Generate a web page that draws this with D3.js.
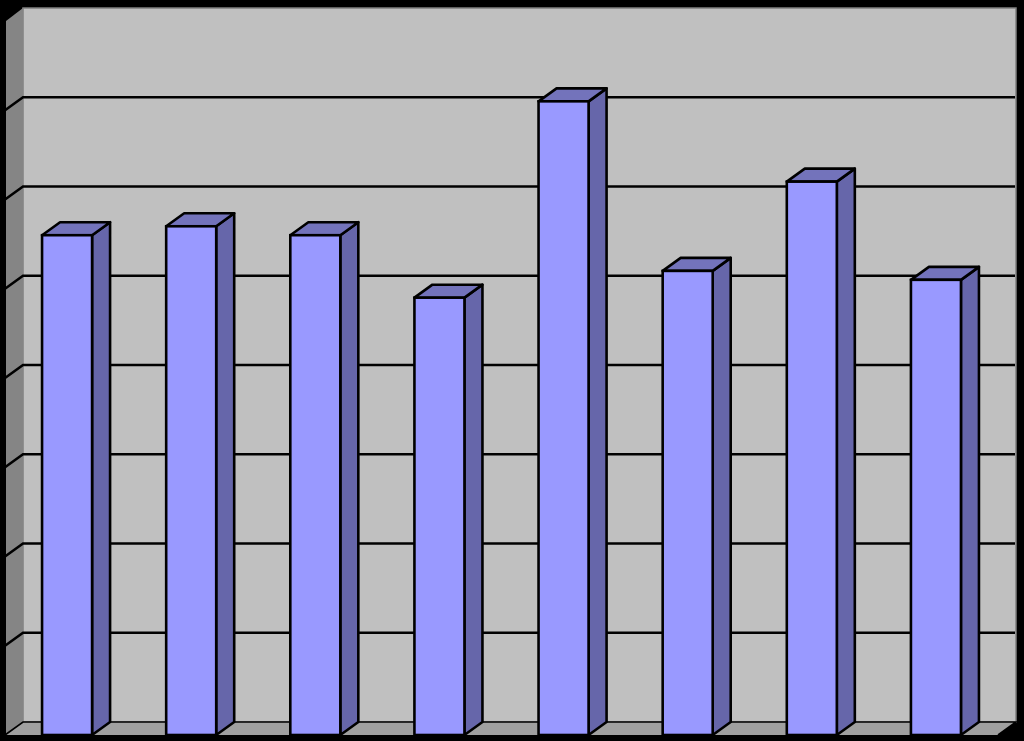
<!DOCTYPE html>
<html>
<head>
<meta charset="utf-8">
<style>html,body{margin:0;padding:0;background:#000;overflow:hidden}svg{display:block}</style>
<script src="https://cdn.jsdelivr.net/npm/d3@7/dist/d3.min.js"></script>
</head>
<body>
<svg id="c" width="1024" height="741"></svg>
<script>
const categories = ["1","2","3","4","5","6","7","8"];
const values = [56, 57, 56, 49, 71, 52, 62, 51];
const gridTicks = [0, 10, 20, 30, 40, 50, 60, 70, 80];

const W = 1024, H = 741;
const frontLeft = 5, frontRight = 998, frontBottom = 735, frontTop = 21;
const dx = 18, dy = -13;

const x = d3.scaleBand().domain(categories).range([frontLeft, frontRight]).paddingInner(0.597).paddingOuter(0.2985);
const y = d3.scaleLinear().domain([0, 80]).range([frontBottom, frontTop]);

const svg = d3.select("#c");
const line = d3.line();
const poly = pts => line(pts) + "Z";
const stroke = "#000";

svg.append("rect").attr("width", W).attr("height", H).attr("fill", "#000");

// back wall
svg.append("path")
  .attr("d", poly([[frontLeft+dx, y(80)+dy],[frontRight+dx, y(80)+dy],[frontRight+dx, y(0)+dy],[frontLeft+dx, y(0)+dy]]))
  .attr("fill", "#c0c0c0").attr("stroke", "#808080").attr("stroke-width", 1.5);
// left wall
svg.append("path")
  .attr("d", poly([[frontLeft+1, y(80)],[frontLeft+dx, y(80)+dy],[frontLeft+dx, y(0)+dy],[frontLeft+1, y(0)]]))
  .attr("fill", "#858585");
// floor
svg.append("path")
  .attr("d", poly([[frontLeft, y(0)],[frontLeft+dx, y(0)+dy],[frontRight+dx, y(0)+dy],[frontRight, y(0)]]))
  .attr("fill", "#a0a0a0");

// grid lines: back wall plus left wall diagonal
const g = svg.append("g");
gridTicks.filter(t => t > 0 && t < 80).forEach(t => {
  g.append("path")
    .attr("d", line([[frontLeft, y(t)],[frontLeft+dx, y(t)+dy],[frontRight+dx-1, y(t)+dy]]))
    .attr("fill", "none").attr("stroke", stroke).attr("stroke-width", 2.6);
});
// floor edges
svg.append("path")
  .attr("d", line([[frontLeft, y(0)],[frontLeft+dx, y(0)+dy],[frontRight+dx, y(0)+dy],[frontRight, y(0)]]))
  .attr("fill", "none").attr("stroke", stroke).attr("stroke-width", 1.6);

// bars
const bars = svg.append("g").selectAll("g").data(categories).join("g");
bars.append("path")
  .attr("d", (c, i) => {
    const r = x(c) + x.bandwidth();
    return poly([[r, y(values[i])],[r+dx, y(values[i])+dy],[r+dx, y(0)+dy],[r, y(0)]]);
  })
  .attr("fill", "#6666aa").attr("stroke", stroke).attr("stroke-width", 2.6).attr("stroke-linejoin", "round");
bars.append("path")
  .attr("d", (c, i) => {
    const l = x(c), r = l + x.bandwidth(), t = y(values[i]);
    return poly([[l, t],[l+dx, t+dy],[r+dx, t+dy],[r, t]]);
  })
  .attr("fill", "#7373bb").attr("stroke", stroke).attr("stroke-width", 2.6).attr("stroke-linejoin", "round");
bars.append("rect")
  .attr("x", c => x(c))
  .attr("y", (c, i) => y(values[i]))
  .attr("width", x.bandwidth())
  .attr("height", (c, i) => y(0) - y(values[i]))
  .attr("fill", "#9999ff").attr("stroke", stroke).attr("stroke-width", 2.6);
</script>
</body>
</html>
